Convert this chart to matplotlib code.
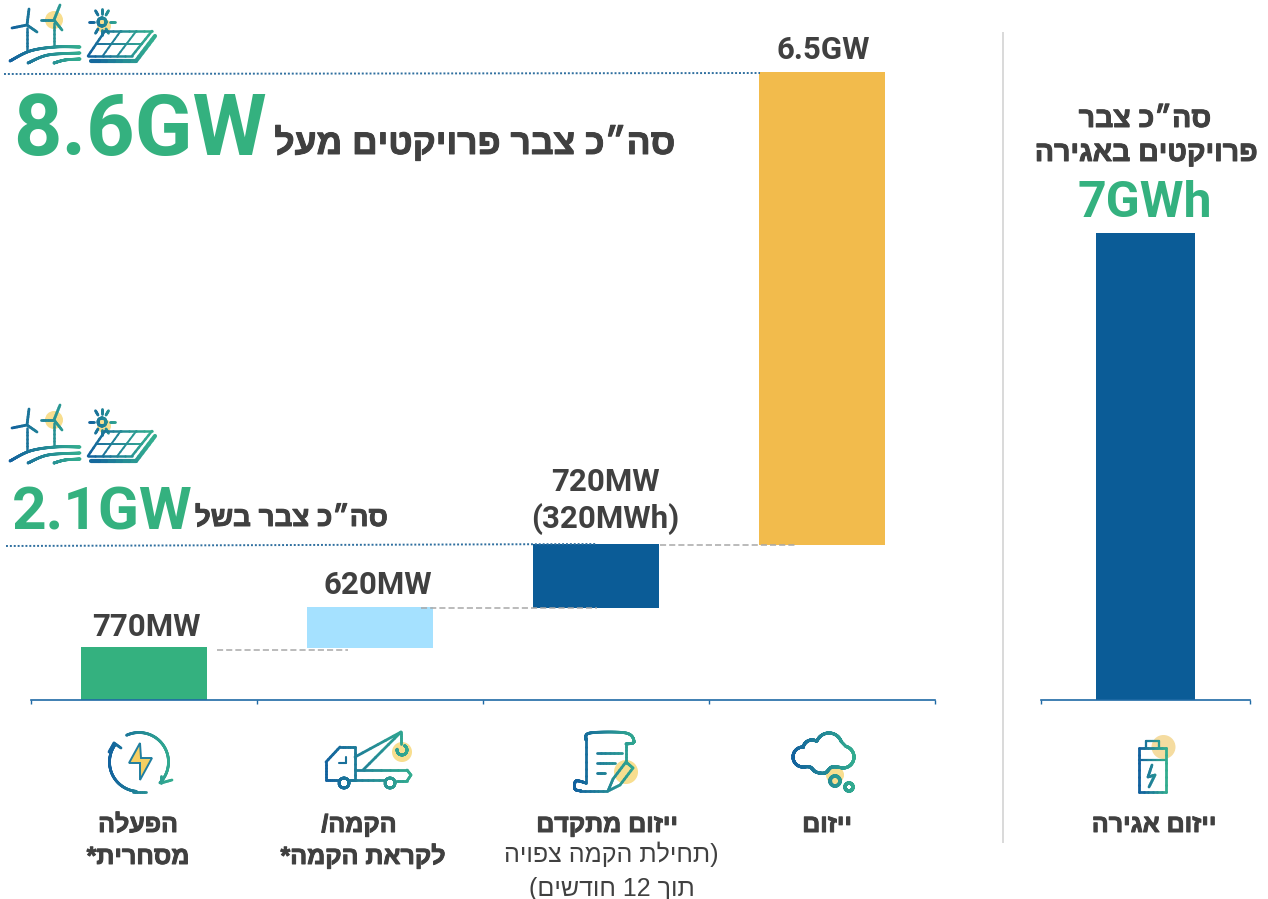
import re
import numpy as np
import matplotlib
matplotlib.use('Agg')
import matplotlib.pyplot as plt
import matplotlib.patheffects as pe
from matplotlib.collections import LineCollection
from matplotlib.patches import Circle, Polygon

# waterfall, MW
stage_names = ['הפעלה מסחרית', 'הקמה', 'ייזום מתקדם', 'ייזום']
bar_bottoms = [0, 715, 1265, 2130]
bar_heights = [730, 565, 880, 6500]
bar_colors = ['#34b17f', '#a5e1ff', '#0b5c97', '#f2bb4c']
value_labels = ['770MW', '620MW', '720MW\n(320MWh)', '6.5GW']

# storage, GWh
storage_names = ['ייזום אגירה']
storage_values = [7]

GREEN = '#34b17f'
DARK = '#404040'
BLUE = np.array([0.07, 0.38, 0.62])
TEAL = np.array([0.20, 0.68, 0.56])
SUN = '#f8de8f'
HEB = ['Liberation Sans', 'DejaVu Sans']
NUM = ['Roboto', 'Liberation Sans']
HEAVY = [pe.withStroke(linewidth=0.7, foreground=DARK)]

plt.rcParams['font.family'] = HEB


def rtl(s):
    # matplotlib lays out left to right, so flip hebrew but keep numbers
    return re.sub(r'\d+', lambda m: m.group()[::-1], s[::-1])


fig = plt.figure(figsize=(12.68, 8.99), dpi=100)

ax = fig.add_axes([31 / 1268, 199 / 899, 904 / 1268, 700 / 899])
ax.bar(range(4), bar_heights, bottom=bar_bottoms, width=0.558, color=bar_colors)
ax.set_xlim(-0.5, 3.5)
ax.set_ylim(0, 9615)

ax2 = fig.add_axes([1041 / 1268, 199 / 899, 209 / 1268, 700 / 899])
ax2.bar(storage_names, storage_values, width=0.47, color='#0b5c97')
ax2.set_xlim(-0.5, 0.5)
ax2.set_ylim(0, 10.5)

for a, ticks in [(ax, np.arange(-0.5, 4)), (ax2, [-0.5, 0.5])]:
    for side in ['top', 'left', 'right']:
        a.spines[side].set_visible(False)
    a.spines['bottom'].set_color('#1f6aa5')
    a.spines['bottom'].set_linewidth(1.2)
    a.set_xticks(ticks)
    a.set_xticklabels([])
    a.set_yticks([])
    a.tick_params(axis='x', length=3, width=1, color='#1f6aa5')
    a.patch.set_visible(False)

# overlay in image pixels for notes and icons
ov = fig.add_axes([0, 0, 1, 1], zorder=5)
ov.set_xlim(0, 1268)
ov.set_ylim(899, 0)
ov.axis('off')


def smooth(pts, n=12):
    pts = np.array(pts, float)
    p = np.vstack([pts[0], pts, pts[-1]])
    out = []
    for i in range(1, len(p) - 2):
        for t in np.linspace(0, 1, n, endpoint=False):
            out.append(0.5 * (2 * p[i] + (p[i + 1] - p[i - 1]) * t
                              + (2 * p[i - 1] - 5 * p[i] + 4 * p[i + 1] - p[i + 2]) * t ** 2
                              + (3 * p[i] - p[i - 1] - 3 * p[i + 1] + p[i + 2]) * t ** 3))
    out.append(p[-2])
    return np.array(out)


def stroke(pts, x0, x1, lw=2.0):
    # icon line with the blue to teal gradient running across the icon
    pts = np.array(pts, float)
    fine = []
    for a, b in zip(pts[:-1], pts[1:]):
        fine.extend(a + (b - a) * t for t in np.linspace(0, 1, 6, endpoint=False))
    fine.append(pts[-1])
    fine = np.array(fine)
    segs = np.stack([fine[:-1], fine[1:]], axis=1)
    f = np.clip((segs.mean(axis=1)[:, 0] - x0) / (x1 - x0), 0, 1)[:, None]
    ov.add_collection(LineCollection(segs, colors=BLUE * (1 - f) + TEAL * f, linewidths=lw,
                                     capstyle='round', joinstyle='round', zorder=4))


def arc(cx, cy, r, a0, a1):
    t = np.radians(np.linspace(a0, a1, 30))
    return np.c_[cx + r * np.cos(t), cy + r * np.sin(t)]


def ring(cx, cy, r, x0, x1, lw=2.0, a0=0, a1=360):
    stroke(arc(cx, cy, r, a0, a1), x0, x1, lw)


def sun(cx, cy, r):
    ov.add_patch(Circle((cx, cy), r, fc=SUN, ec='none', zorder=2))


def energy_icon(dy):
    sun(54, 20 + dy, 9)
    sun(104, 26 + dy, 7)
    for (hx, hy), tips, foot in [((27, 25), [(29, 9), (12, 28), (37, 32)], 50),
                                 ((54, 20), [(60, 5), (41, 20), (62, 30)], 45)]:
        for tx, ty in tips:
            stroke([(hx, hy + dy), (tx, ty + dy)], 10, 80, 2)
        stroke([(hx, hy + 3 + dy), (hx, foot + dy)], 10, 80, 1.8)
    stroke(smooth([(10, 61 + dy), (30, 51 + dy), (55, 47 + dy), (80, 47 + dy)]), 10, 80, 2)
    stroke(smooth([(28, 63 + dy), (48, 55 + dy), (80, 53 + dy)]), 10, 80, 2)
    stroke(smooth([(54, 63 + dy), (65, 60 + dy), (80, 59 + dy)]), 10, 80, 2)
    ring(102, 22 + dy, 4, 88, 120, 2)
    for ang in [0, 60, 90, 120, 180, 240, 270, 300]:
        c, s = np.cos(np.radians(ang)), np.sin(np.radians(ang))
        stroke([(102 + 8 * c, 22 + dy + 8 * s), (102 + 13 * c, 22 + dy + 13 * s)], 88, 120, 2)
    # solar panel
    a, b, c, d = (105, 31 + dy), (152, 31 + dy), (132, 56 + dy), (88, 56 + dy)
    stroke([a, b, c, d, a], 88, 150, 1.8)
    for f in (1 / 3, 2 / 3):
        stroke([(a[0] + f * 47, a[1]), (d[0] + f * 44, d[1])], 88, 150, 1.4)
    stroke([(97, 43.5 + dy), (142, 43.5 + dy)], 88, 150, 1.4)
    stroke([(155, 36 + dy), (136, 61 + dy), (91, 61 + dy)], 88, 150, 3)


energy_icon(0)
energy_icon(400)

# cycle
ov.add_patch(Polygon([(140, 743), (129, 763), (140, 763), (140, 780), (152, 758), (141, 758)],
                     closed=True, fc='#f5cf62', ec='#1f7ea0', lw=1.4, zorder=3))
ring(139, 762, 29.5, 108, 172, 2, 95, 215)
ring(139, 762, 29.5, 108, 172, 2, 245, 405)
stroke([(109, 752), (114, 743), (121, 748)], 108, 172, 2)
stroke([(161, 776), (161, 783), (172, 780)], 108, 172, 2)
stroke([(133, 792), (146, 792)], 108, 172, 2)

# truck
sun(402, 752, 10)
stroke([(338, 780), (326, 780), (326, 762), (340, 747), (355, 747), (355, 780), (350, 780)], 325, 412)
stroke([(355, 770), (407, 770), (411, 775), (407, 781), (396, 781)], 325, 412)
stroke([(350, 780), (385, 780)], 325, 412)
ring(344, 783, 5, 325, 412)
ring(390, 783, 5, 325, 412)
stroke([(355, 757), (401, 732), (363, 770)], 325, 412)
stroke([(401, 732), (401, 744)], 325, 412)
ring(402, 750, 5, 325, 412, 2, -60, 190)
stroke([(346, 757), (346, 763), (339, 763)], 325, 412, 1.5)

# document
sun(626, 772, 12)
stroke(smooth([(586, 740), (590, 733), (626, 733), (634, 742), (626, 744)]), 575, 640)
stroke([(586, 740), (586, 783)], 575, 640)
stroke(smooth([(586, 783), (576, 781), (575, 789), (581, 791)]), 575, 640)
stroke([(581, 791), (607, 791)], 575, 640)
stroke([(626, 744), (626, 763)], 575, 640)
for x_end, y in [(622, 753), (615, 763), (605, 773)]:
    stroke([(597, y), (x_end, y)], 575, 640)
stroke([(608, 791), (613, 779), (626, 762), (633, 768), (620, 785), (608, 791)], 575, 640)

# cloud
sun(835, 775, 9)
cloud = np.vstack([arc(803, 757, 10, 90, 270), arc(812, 749, 9, 190, 300), arc(829, 746, 13, 205, 340),
                   arc(843, 757, 11, 285, 450),
                   smooth([(843, 768), (832, 767), (825, 773), (816, 772), (810, 767), (803, 767)])])
stroke(cloud, 792, 855, 2.2)
ring(835, 781, 5, 792, 855, 2.4)
ring(849, 787, 4, 792, 855, 2.4)

# battery
ov.add_patch(Circle((1163.5, 747), 12, fc='#f5dca0', ec='none', zorder=2))
stroke([(1139, 748), (1166, 748), (1166, 792), (1139, 792), (1139, 748)], 1139, 1166)
stroke([(1146, 748), (1146, 741), (1159, 741), (1159, 748)], 1139, 1166, 1.6)
stroke([(1139, 760), (1166, 760)], 1139, 1166, 1.6)
stroke([(1152, 765), (1148, 777), (1155, 775), (1149, 787)], 1139, 1166, 2)

# guide lines
ov.plot([4, 760], [74, 73], color='#2f6f9f', lw=1.4, ls=(0, (1, 1)))
ov.plot([6, 597], [546, 544], color='#2f6f9f', lw=1.4, ls=(0, (1, 1)))
for x0, x1, y in [(217, 348, 650), (421, 597, 608), (660, 795, 545)]:
    ov.plot([x0, x1], [y, y], color='#a8a8a8', lw=1.1, ls=(0, (4, 2)))
ov.plot([1003, 1003], [33, 842], color='#d9d9d9', lw=1.4)

# big numbers
ov.text(13, 155, '8.6GW', family=NUM, weight='bold', size=61, color=GREEN, ha='left', va='baseline')
ov.text(12, 530, '2.1GW', family=NUM, weight='bold', size=43.5, color=GREEN, ha='left', va='baseline')
ov.text(1145, 217, '7GWh', family=NUM, weight='bold', size=36, color=GREEN, ha='center', va='baseline')
for x, y, s, size, ha in [(675, 154, 'סה״כ צבר פרויקטים מעל', 25.5, 'right'),
                          (388, 526, 'סה״כ צבר בשל', 20, 'right'),
                          (1145, 127, 'סה״כ צבר', 20.5, 'center'),
                          (1146, 161, 'פרויקטים באגירה', 20.5, 'center')]:
    ov.text(x, y, rtl(s), weight='bold', size=size, color=DARK, ha=ha, va='baseline', path_effects=HEAVY)

# bar values
for x, y, lab in zip([146, 378, 605, 823], [636, 594, 491, 59], value_labels):
    if '\n' in lab:
        top, bottom = lab.split('\n')
        ov.text(x, y, top, family=NUM, weight='bold', size=22.5, color=DARK, ha='center', va='baseline')
        ov.text(x, y + 37, bottom, family=NUM, weight='bold', size=22.5, color=DARK, ha='center', va='baseline')
    else:
        ov.text(x, y, lab, family=NUM, weight='bold', size=22.5, color=DARK, ha='center', va='baseline')

# category captions
for x, y, s in [(138, 832, 'הפעלה'), (138, 864, 'מסחרית*'),
                (359, 832, 'הקמה/'), (363, 864, 'לקראת הקמה*'),
                (607, 832, stage_names[2]), (827, 832, stage_names[3]),
                (1154, 832, storage_names[0])]:
    ov.text(x, y, rtl(s), weight='bold', size=18, color=DARK, ha='center', va='baseline', path_effects=HEAVY)
ov.text(611, 862, rtl(')תחילת הקמה צפויה'), size=18, color=DARK, ha='center', va='baseline')
ov.text(612, 896, rtl('תוך 12 חודשים('), size=18, color=DARK, ha='center', va='baseline')

fig.savefig('out.png', dpi=100)
